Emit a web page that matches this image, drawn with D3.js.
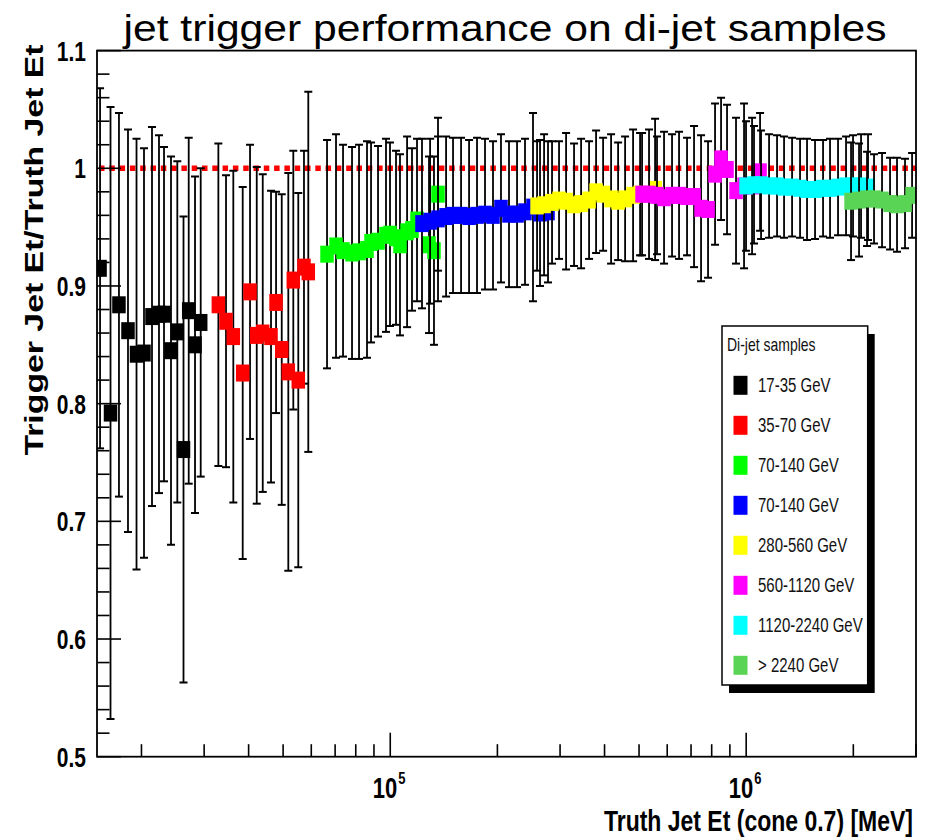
<!DOCTYPE html>
<html>
<head>
<meta charset="utf-8">
<script src="https://cdn.jsdelivr.net/npm/d3@7"></script>
<style>
  body { margin: 0; background: #fff; }
  svg { display: block; }
  text { font-family: "Liberation Sans", Arial, Helvetica, sans-serif; }
</style>
</head>
<body>
<svg id="chart" width="929" height="839"></svg>
<script>
// Di-jet samples: truth jet Et [MeV], trigger/truth ratio, error (half length)
const etS1 = [15300, 16370, 17290, 18330, 19370, 20330, 21410, 22400, 23140, 24210, 25220, 26250, 27150, 28280, 29340];
const ratioS1 = [0.915, 0.792, 0.884, 0.862, 0.842, 0.843, 0.874, 0.876, 0.876, 0.845, 0.861, 0.761, 0.879, 0.850, 0.869];
const errS1 = [0.153, 0.260, 0.163, 0.171, 0.183, 0.174, 0.161, 0.152, 0.142, 0.165, 0.145, 0.198, 0.147, 0.143, 0.131];

const etS2 = [32890, 34560, 36230, 38500, 40370, 42160, 43830, 46240, 47770, 49560, 51710, 53410, 55160, 57230, 58850];
const ratioS2 = [0.884, 0.870, 0.857, 0.826, 0.895, 0.858, 0.860, 0.857, 0.886, 0.846, 0.827, 0.905, 0.820, 0.916, 0.912];
const errS2 = [0.137, 0.124, 0.141, 0.158, 0.125, 0.143, 0.135, 0.124, 0.094, 0.132, 0.169, 0.110, 0.159, 0.099, 0.153];

const etS3 = [66430, 70410, 73680, 78090, 81710, 86040, 88310, 92400, 97290, 99840, 103800, 106500, 111500, 115100, 118900, 128500, 132700, 136200];
const ratioS3 = [0.927, 0.934, 0.930, 0.928, 0.929, 0.931, 0.937, 0.938, 0.943, 0.944, 0.941, 0.935, 0.946, 0.948, 0.956, 0.935, 0.930, 0.978];
const errS3 = [0.097, 0.095, 0.090, 0.090, 0.091, 0.092, 0.085, 0.081, 0.082, 0.078, 0.074, 0.077, 0.081, 0.069, 0.069, 0.075, 0.080, 0.065];

const etS4 = [122800, 129400, 136200, 143500, 150100, 158100, 166500, 175300, 184600, 194400, 204700, 215600, 227100, 239100, 251800, 263500, 277500];
const ratioS4 = [0.953, 0.955, 0.957, 0.959, 0.960, 0.960, 0.959, 0.960, 0.961, 0.960, 0.966, 0.961, 0.961, 0.963, 0.967, 0.962, 0.963];
const errS4 = [0.072, 0.070, 0.070, 0.068, 0.066, 0.066, 0.065, 0.066, 0.064, 0.063, 0.063, 0.062, 0.062, 0.062, 0.080, 0.062, 0.060];

const etS5 = [258500, 270500, 284800, 298000, 311900, 328400, 343700, 361900, 378700, 396300, 417300, 436700, 456900, 481100, 503400, 554700];
const ratioS5 = [0.968, 0.969, 0.971, 0.973, 0.972, 0.969, 0.970, 0.973, 0.980, 0.978, 0.974, 0.972, 0.974, 0.977, 0.978, 0.982];
const errS5 = [0.055, 0.060, 0.052, 0.050, 0.058, 0.052, 0.055, 0.050, 0.052, 0.048, 0.055, 0.050, 0.053, 0.056, 0.052, 0.060];

const etS6 = [509900, 533400, 561700, 587800, 619000, 647700, 682100, 713700, 746800, 781400, 817600, 850000, 883500, 936400, 986300, 1038800, 1094000];
const ratioS6 = [0.978, 0.978, 0.977, 0.975, 0.977, 0.977, 0.976, 0.976, 0.966, 0.965, 0.995, 1.008, 0.999, 0.981, 0.985, 0.985, 0.997];
const errS6 = [0.052, 0.055, 0.050, 0.056, 0.052, 0.054, 0.050, 0.060, 0.062, 0.058, 0.060, 0.052, 0.055, 0.062, 0.070, 0.058, 0.050];

const etS7 = [999100, 1052000, 1101000, 1159600, 1221000, 1277700, 1345700, 1417000, 1482400, 1561300, 1644300, 1720300, 1811700, 1908000, 1996300, 2102400, 2199700];
const ratioS7 = [0.985, 0.986, 0.986, 0.985, 0.985, 0.984, 0.984, 0.983, 0.982, 0.982, 0.983, 0.983, 0.984, 0.985, 0.985, 0.985, 0.984];
const errS7 = [0.055, 0.050, 0.046, 0.044, 0.043, 0.043, 0.042, 0.042, 0.043, 0.042, 0.041, 0.042, 0.041, 0.042, 0.043, 0.044, 0.045];

const etS8 = [1970700, 2075400, 2185500, 2286700, 2408200, 2536300, 2653300, 2794300, 2924700];
const ratioS8 = [0.972, 0.973, 0.974, 0.974, 0.973, 0.970, 0.969, 0.970, 0.977];
const errS8 = [0.050, 0.048, 0.040, 0.038, 0.040, 0.039, 0.040, 0.038, 0.036];

const sampleLabels = ["17-35 GeV", "35-70 GeV", "70-140 GeV", "70-140 GeV", "280-560 GeV", "560-1120 GeV", "1120-2240 GeV", "> 2240 GeV"];
const sampleColors = ["#000000", "#ff0000", "#00ff00", "#0000ff", "#ffff00", "#ff00ff", "#00ffff", "#59d454"];

const yTickLabels = ["0.5", "0.6", "0.7", "0.8", "0.9", "1", "1.1"];
const xDecades = [1e5, 1e6];
const xDecadeExp = ["5", "6"];

// build series list from the arrays above
const allEt = [etS1, etS2, etS3, etS4, etS5, etS6, etS7, etS8];
const allRatio = [ratioS1, ratioS2, ratioS3, ratioS4, ratioS5, ratioS6, ratioS7, ratioS8];
const allErr = [errS1, errS2, errS3, errS4, errS5, errS6, errS7, errS8];
const series = allEt.map((et, i) => ({
    label: sampleLabels[i],
    color: sampleColors[i],
    points: et.map((e, j) => ({et: e, r: allRatio[i][j], err: allErr[i][j]}))
}));

const svg = d3.select("#chart");
const frame = {left: 97, right: 916, top: 50.6, bottom: 756.7};
const stretch = 1.3; // the original canvas is stretched vertically

const x = d3.scaleLog().domain([1.5e4, 3e6]).range([frame.left, frame.right]);
const y = d3.scaleLinear().domain([0.5, 1.1]).range([frame.bottom, frame.top]);

svg.append("rect").attr("width", 929).attr("height", 839).attr("fill", "#fff");

// title
svg.append("text")
    .attr("x", 505).attr("y", 41)
    .attr("text-anchor", "middle")
    .attr("font-size", 37)
    .attr("textLength", 763).attr("lengthAdjust", "spacingAndGlyphs")
    .text("jet trigger performance on di-jet samples");

svg.append("defs").append("clipPath").attr("id", "plotclip")
    .append("rect")
    .attr("x", frame.left).attr("y", frame.top)
    .attr("width", frame.right - frame.left).attr("height", frame.bottom - frame.top);

// reference line at 1
svg.append("line")
    .attr("x1", frame.left + 2).attr("x2", frame.right)
    .attr("y1", y(1)).attr("y2", y(1))
    .attr("stroke", "#ff0000").attr("stroke-width", 5.5)
    .attr("stroke-dasharray", "5.5,4.8");

// data: error bars then markers, one sample after another
const plot = svg.append("g").attr("clip-path", "url(#plotclip)");
const markW = 13.5, markH = 17, capW = 8;
series.forEach(s => {
    const g = plot.append("g");
    const bars = g.selectAll("g.bar").data(s.points).enter().append("g").attr("class", "bar");
    bars.append("line")
        .attr("x1", d => x(d.et)).attr("x2", d => x(d.et))
        .attr("y1", d => y(d.r + d.err)).attr("y2", d => y(d.r - d.err))
        .attr("stroke", "#000").attr("stroke-width", 1.8);
    [1, -1].forEach(sgn => {
        bars.append("line")
            .attr("x1", d => x(d.et) - capW / 2).attr("x2", d => x(d.et) + capW / 2)
            .attr("y1", d => y(d.r + sgn * d.err)).attr("y2", d => y(d.r + sgn * d.err))
            .attr("stroke", "#000").attr("stroke-width", 2);
    });
    g.selectAll("rect.mark").data(s.points).enter().append("rect")
        .attr("class", "mark")
        .attr("x", d => x(d.et) - markW / 2).attr("y", d => y(d.r) - markH / 2)
        .attr("width", markW).attr("height", markH)
        .attr("fill", s.color);
});

// frame
svg.append("rect")
    .attr("x", frame.left).attr("y", frame.top)
    .attr("width", frame.right - frame.left).attr("height", frame.bottom - frame.top)
    .attr("fill", "none").attr("stroke", "#000").attr("stroke-width", 1.8);

// y axis ticks (inside, pointing right)
const yMinor = d3.range(0, 31).map(i => 0.5 + i * 0.02);
svg.append("g").selectAll("line").data(yMinor).enter().append("line")
    .attr("x1", frame.left)
    .attr("x2", d => frame.left + (Math.abs(Math.round(d * 10) - d * 10) < 1e-6 ? 24 : 12.5))
    .attr("y1", d => y(d)).attr("y2", d => y(d))
    .attr("stroke", "#000").attr("stroke-width", 1.6);

yTickLabels.forEach(lab => {
    svg.append("text")
        .attr("transform", `translate(86,${y(+lab) + 10}) scale(1,${stretch})`)
        .attr("text-anchor", "end")
        .attr("font-weight", "bold").attr("font-size", 21)
        .text(lab);
});

// x axis ticks (inside, pointing up)
const xTicks = x.ticks();
svg.append("g").selectAll("line").data(xTicks).enter().append("line")
    .attr("x1", d => x(d)).attr("x2", d => x(d))
    .attr("y1", frame.bottom)
    .attr("y2", d => frame.bottom - (xDecades.includes(d) ? 24 : 12.5))
    .attr("stroke", "#000").attr("stroke-width", 1.6);

xDecades.forEach((d, i) => {
    svg.append("text")
        .attr("transform", `translate(${x(d) + 7},798) scale(1,${stretch})`)
        .attr("text-anchor", "end")
        .attr("font-weight", "bold").attr("font-size", 22)
        .text("10");
    svg.append("text")
        .attr("transform", `translate(${x(d) + 8},784) scale(1,${stretch})`)
        .attr("font-weight", "bold").attr("font-size", 13)
        .text(xDecadeExp[i]);
});

// axis titles
svg.append("text")
    .attr("transform", `translate(913,831) scale(1,${stretch})`)
    .attr("text-anchor", "end")
    .attr("font-weight", "bold").attr("font-size", 23)
    .text("Truth Jet Et (cone 0.7) [MeV]");

svg.append("text")
    .attr("transform", `translate(43,250) rotate(-90) scale(${stretch},1)`)
    .attr("text-anchor", "middle")
    .attr("font-weight", "bold").attr("font-size", 26)
    .text("Trigger Jet Et/Truth Jet Et");

// legend with shadow
const leg = {x: 722, y: 326, w: 145.7, h: 359};
svg.append("rect")
    .attr("x", leg.x + 7).attr("y", leg.y + 8).attr("width", leg.w).attr("height", leg.h)
    .attr("fill", "#000");
svg.append("rect")
    .attr("x", leg.x).attr("y", leg.y).attr("width", leg.w).attr("height", leg.h)
    .attr("fill", "#fff").attr("stroke", "#000").attr("stroke-width", 1.5);
svg.append("text")
    .attr("transform", `translate(727,351) scale(1,${stretch})`)
    .attr("font-size", 14).attr("fill", "#111")
    .text("Di-jet samples");

series.forEach((s, i) => {
    const cy = 385.3 + i * 40;
    svg.append("rect")
        .attr("x", 733.5).attr("y", cy - 9.5).attr("width", 14).attr("height", 19)
        .attr("fill", s.color);
    svg.append("text")
        .attr("transform", `translate(758,${cy + 7}) scale(1,${stretch})`)
        .attr("font-size", 15).attr("fill", "#111")
        .text(s.label);
});
</script>
</body>
</html>
